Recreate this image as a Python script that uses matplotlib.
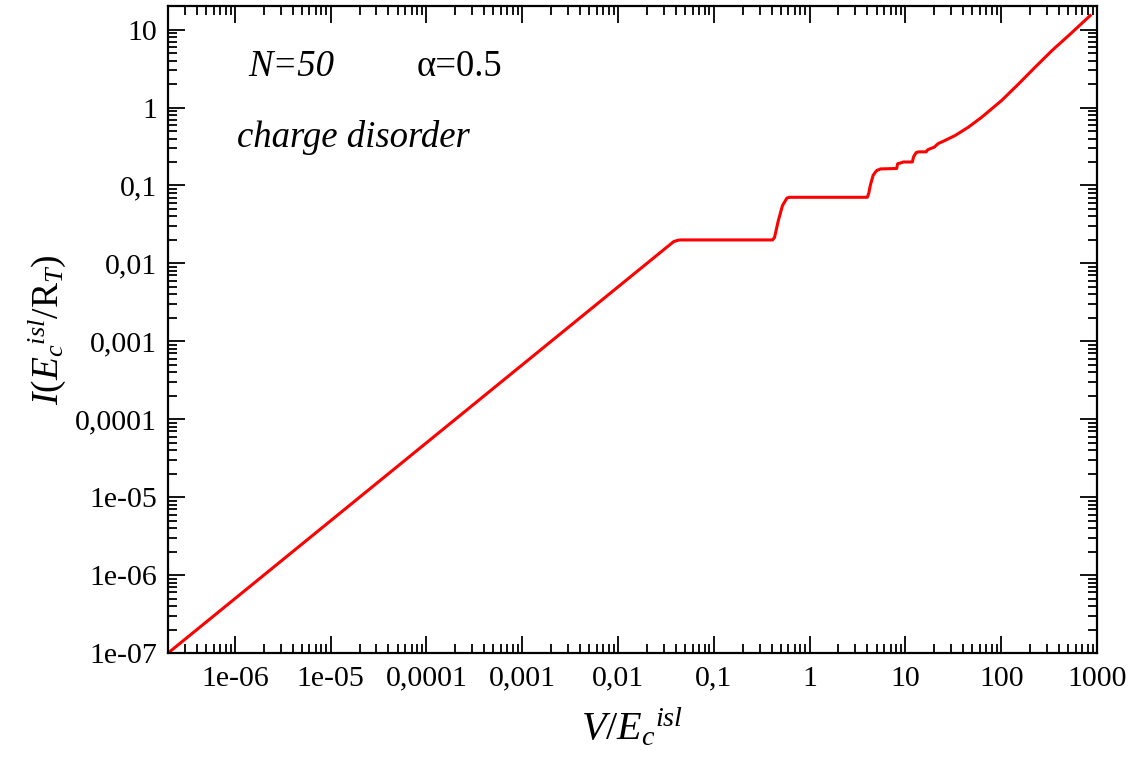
import matplotlib
matplotlib.use("Agg")
import matplotlib.pyplot as plt
import numpy as np

plt.rcParams["font.family"] = ["Liberation Serif", "DejaVu Serif"]
plt.rcParams["mathtext.fontset"] = "custom"
plt.rcParams["mathtext.rm"] = "Liberation Serif"
plt.rcParams["mathtext.it"] = "Liberation Serif:italic"

# I-V curve
V = [2e-7, 0.038, 0.042, 0.045, 0.41, 0.43, 0.47, 0.52, 0.58, 0.62,
     4.0, 4.15, 4.3, 4.6, 5.0, 5.5, 8.1, 8.3, 9.0, 9.5,
     11.8, 12.2, 13.0, 13.8, 16.5, 17.0, 18.0, 20.0, 22.0, 25.0,
     33.0, 45.4, 62.7, 101.0, 152.0, 226.0, 339.0, 507.0, 849.0]
I = [1e-7, 0.019, 0.0198, 0.02, 0.02, 0.0215, 0.035, 0.055, 0.069, 0.0705,
     0.0705, 0.08, 0.1, 0.135, 0.155, 0.163, 0.165, 0.19, 0.195, 0.2,
     0.2, 0.235, 0.265, 0.27, 0.27, 0.285, 0.295, 0.31, 0.345, 0.37,
     0.437, 0.559, 0.752, 1.23, 2.01, 3.29, 5.38, 8.4, 15.1]

xticks = [1e-6, 1e-5, 1e-4, 1e-3, 1e-2, 1e-1, 1, 10, 100, 1000]
xlabels = ["1e-06", "1e-05", "0,0001", "0,001", "0,01", "0,1", "1", "10", "100", "1000"]
yticks = [1e-7, 1e-6, 1e-5, 1e-4, 1e-3, 1e-2, 1e-1, 1, 10]
ylabels = ["1e-07", "1e-06", "1e-05", "0,0001", "0,001", "0,01", "0,1", "1", "10"]

fig = plt.figure(figsize=(11.35, 7.63), dpi=100)
ax = fig.add_axes([0.148, 0.144, 0.8185, 0.848])

ax.plot(V, I, color="red", lw=2.2)

ax.set_xscale("log")
ax.set_yscale("log")
ax.set_xlim(2e-7, 1000)
ax.set_ylim(1e-7, 20)

ax.set_xticks(xticks, xlabels)
ax.set_yticks(yticks, ylabels)
ax.xaxis.set_minor_locator(matplotlib.ticker.LogLocator(base=10, subs=np.arange(2, 10), numticks=20))
ax.yaxis.set_minor_locator(matplotlib.ticker.LogLocator(base=10, subs=np.arange(2, 10), numticks=20))
ax.xaxis.set_minor_formatter(matplotlib.ticker.NullFormatter())
ax.yaxis.set_minor_formatter(matplotlib.ticker.NullFormatter())

ax.tick_params(which="both", direction="in", top=True, right=True, width=1.3, labelsize=21.5)
ax.tick_params(which="major", length=12, pad=8)
ax.tick_params(axis="x", which="major", pad=9)
ax.tick_params(which="minor", length=6.5)
for s in ax.spines.values():
    s.set_linewidth(1.6)

ax.set_xlabel(r"$V/{E_c}^{isl}$", fontsize=29)
ax.set_ylabel(r"$I({E_c}^{isl}/\mathrm{R}_T)$", fontsize=27)
ax.xaxis.set_label_coords(0.5, -0.083)
ax.yaxis.set_label_coords(-0.108, 0.5)

ax.text(0.086, 0.892, "N=50", transform=ax.transAxes, fontsize=26.5, style="italic")
ax.text(0.268, 0.892, "α=0.5", transform=ax.transAxes, fontsize=26.5)
ax.text(0.074, 0.782, "charge disorder", transform=ax.transAxes, fontsize=26.5, style="italic")

plt.savefig("out.png", dpi=100)
